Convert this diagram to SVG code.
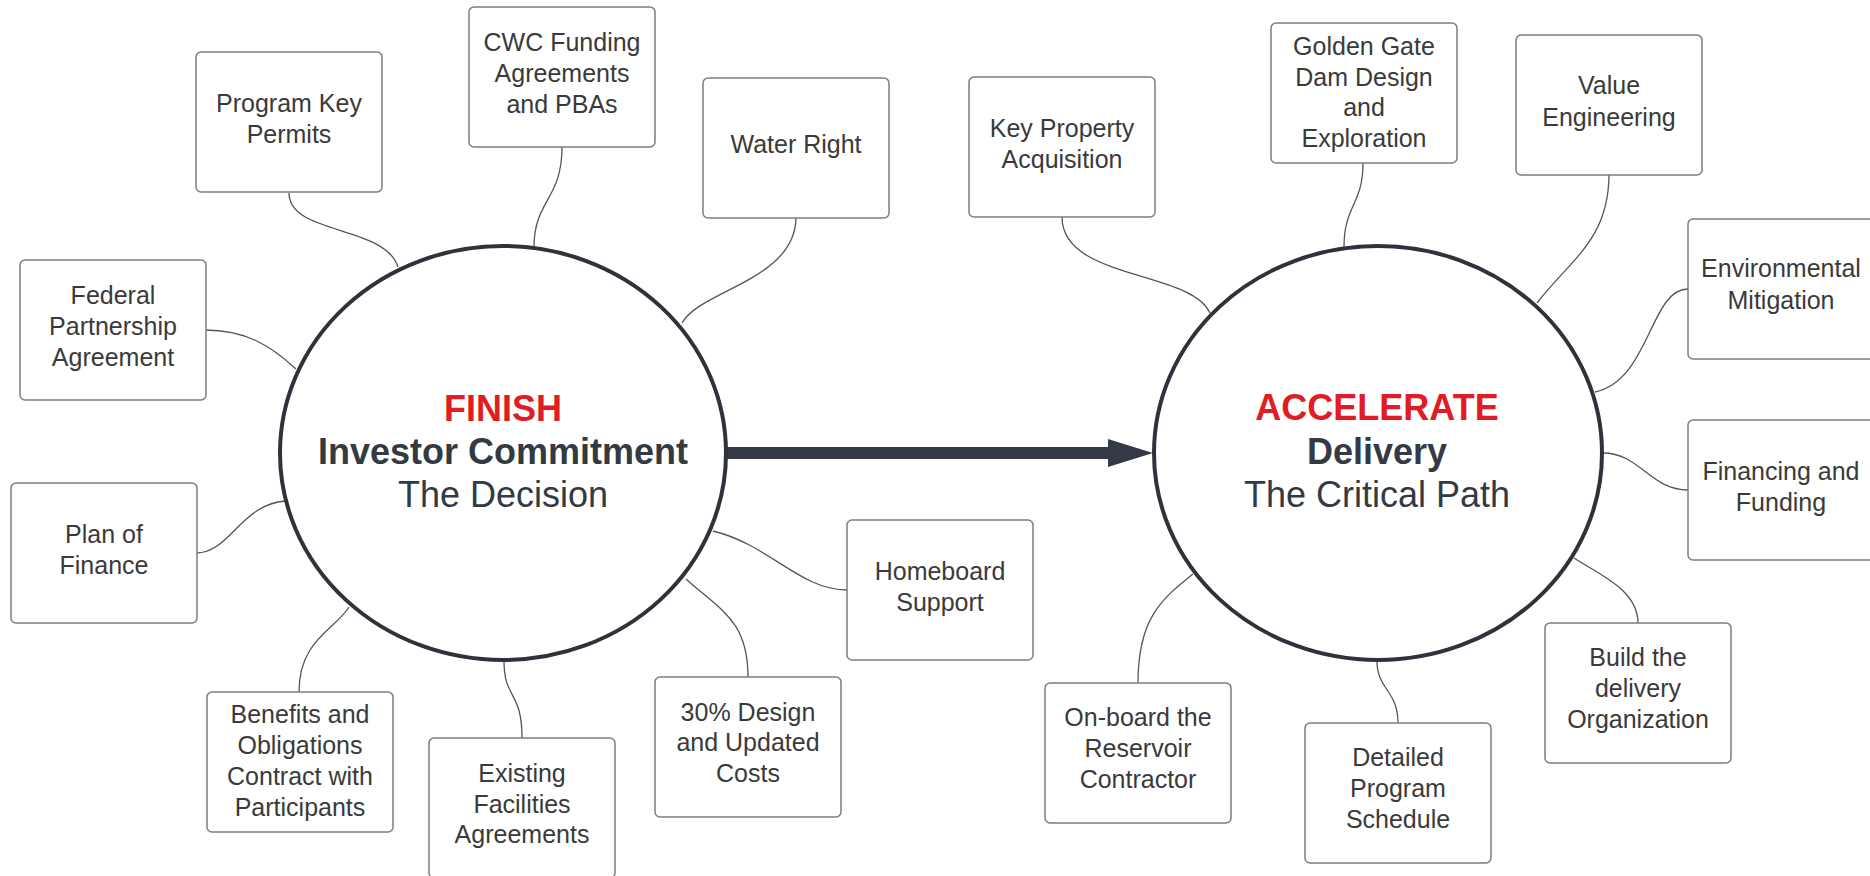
<svg xmlns="http://www.w3.org/2000/svg" width="1870" height="876" viewBox="0 0 1870 876">
<style>
.box{fill:#fff;stroke:#7d7d7d;stroke-width:1.5}
.bt{font-family:"Liberation Sans",Arial,sans-serif;font-size:25px;fill:#3a3a3a;text-anchor:middle}
.hub{fill:#fff;stroke:#2e333b;stroke-width:4}
.ht{font-family:"Liberation Sans",Arial,sans-serif;font-size:36px;text-anchor:middle;fill:#333a44}
.red{fill:#e11d24;font-weight:bold}
.b{font-weight:bold}
.con path{fill:none;stroke:#555;stroke-width:1.3}
</style>
<rect width="1870" height="876" fill="#fff"/>
<g id="connectors" class="con">
<path d="M289,193 C289,235 385,225 398,267"/>
<path d="M562,147 C562,200 534,200 534,247"/>
<path d="M796,217 C796,280 700,290 682,323"/>
<path d="M205,330 C245,330 270,345 296,369"/>
<path d="M196,553 C230,553 240,505 285,501"/>
<path d="M299,692 C299,640 335,630 349,607"/>
<path d="M522,738 C522,690 504,700 504,661"/>
<path d="M748,677 C748,620 720,610 686,579"/>
<path d="M847,590 C800,590 770,545 713,531"/>
<path d="M1062,217 C1062,280 1190,270 1210,313"/>
<path d="M1363,163 C1363,205 1344,205 1344,247"/>
<path d="M1609,174 C1609,240 1570,260 1537,303"/>
<path d="M1688,289 C1650,289 1650,380 1595,392"/>
<path d="M1688,490 C1650,490 1640,453 1603,453"/>
<path d="M1138,683 C1138,620 1160,600 1193,574"/>
<path d="M1398,723 C1398,690 1377,690 1377,661"/>
<path d="M1638,623 C1638,590 1600,575 1574,558"/>
<rect x="726" y="447" width="386" height="12" fill="#343a45"/>
<polygon points="1108,439 1153,453 1108,467" fill="#343a45"/>
</g>
<g id="finish">
<ellipse class="hub" cx="503" cy="453" rx="223" ry="207"/>
<text class="ht red" x="503" y="421">FINISH</text>
<text class="ht b" x="503" y="464">Investor Commitment</text>
<text class="ht" x="503" y="507">The Decision</text>
</g>
<g id="accelerate">
<ellipse class="hub" cx="1378" cy="453" rx="224" ry="207"/>
<text class="ht red" x="1377" y="420">ACCELERATE</text>
<text class="ht b" x="1377" y="464">Delivery</text>
<text class="ht" x="1377" y="507">The Critical Path</text>
</g>
<g id="n-permits"><rect class="box" x="196" y="52" width="186" height="140" rx="5"/>
<text class="bt" x="289" y="112">Program Key</text><text class="bt" x="289" y="143">Permits</text></g>
<g id="n-cwc"><rect class="box" x="469" y="7" width="186" height="140" rx="5"/>
<text class="bt" x="562" y="51">CWC Funding</text><text class="bt" x="562" y="82">Agreements</text><text class="bt" x="562" y="113">and PBAs</text></g>
<g id="n-water"><rect class="box" x="703" y="78" width="186" height="140" rx="5"/>
<text class="bt" x="796" y="153">Water Right</text></g>
<g id="n-federal"><rect class="box" x="20" y="260" width="186" height="140" rx="5"/>
<text class="bt" x="113" y="304">Federal</text><text class="bt" x="113" y="335">Partnership</text><text class="bt" x="113" y="366">Agreement</text></g>
<g id="n-plan"><rect class="box" x="11" y="483" width="186" height="140" rx="5"/>
<text class="bt" x="104" y="543">Plan of</text><text class="bt" x="104" y="574">Finance</text></g>
<g id="n-benefits"><rect class="box" x="207" y="692" width="186" height="140" rx="5"/>
<text class="bt" x="300" y="723">Benefits and</text><text class="bt" x="300" y="754">Obligations</text><text class="bt" x="300" y="785">Contract with</text><text class="bt" x="300" y="816">Participants</text></g>
<g id="n-existing"><rect class="box" x="429" y="738" width="186" height="140" rx="5"/>
<text class="bt" x="522" y="782">Existing</text><text class="bt" x="522" y="813">Facilities</text><text class="bt" x="522" y="843">Agreements</text></g>
<g id="n-design"><rect class="box" x="655" y="677" width="186" height="140" rx="5"/>
<text class="bt" x="748" y="721">30% Design</text><text class="bt" x="748" y="751">and Updated</text><text class="bt" x="748" y="782">Costs</text></g>
<g id="n-homeboard"><rect class="box" x="847" y="520" width="186" height="140" rx="5"/>
<text class="bt" x="940" y="580">Homeboard</text><text class="bt" x="940" y="611">Support</text></g>
<g id="n-property"><rect class="box" x="969" y="77" width="186" height="140" rx="5"/>
<text class="bt" x="1062" y="137">Key Property</text><text class="bt" x="1062" y="168">Acquisition</text></g>
<g id="n-golden"><rect class="box" x="1271" y="23" width="186" height="140" rx="5"/>
<text class="bt" x="1364" y="55">Golden Gate</text><text class="bt" x="1364" y="86">Dam Design</text><text class="bt" x="1364" y="116">and</text><text class="bt" x="1364" y="147">Exploration</text></g>
<g id="n-value"><rect class="box" x="1516" y="35" width="186" height="140" rx="5"/>
<text class="bt" x="1609" y="94">Value</text><text class="bt" x="1609" y="126">Engineering</text></g>
<g id="n-env"><rect class="box" x="1688" y="219" width="186" height="140" rx="5"/>
<text class="bt" x="1781" y="277">Environmental</text><text class="bt" x="1781" y="309">Mitigation</text></g>
<g id="n-fin"><rect class="box" x="1688" y="420" width="186" height="140" rx="5"/>
<text class="bt" x="1781" y="480">Financing and</text><text class="bt" x="1781" y="511">Funding</text></g>
<g id="n-onboard"><rect class="box" x="1045" y="683" width="186" height="140" rx="5"/>
<text class="bt" x="1138" y="726">On-board the</text><text class="bt" x="1138" y="757">Reservoir</text><text class="bt" x="1138" y="788">Contractor</text></g>
<g id="n-schedule"><rect class="box" x="1305" y="723" width="186" height="140" rx="5"/>
<text class="bt" x="1398" y="766">Detailed</text><text class="bt" x="1398" y="797">Program</text><text class="bt" x="1398" y="828">Schedule</text></g>
<g id="n-build"><rect class="box" x="1545" y="623" width="186" height="140" rx="5"/>
<text class="bt" x="1638" y="666">Build the</text><text class="bt" x="1638" y="697">delivery</text><text class="bt" x="1638" y="728">Organization</text></g>
</svg>
